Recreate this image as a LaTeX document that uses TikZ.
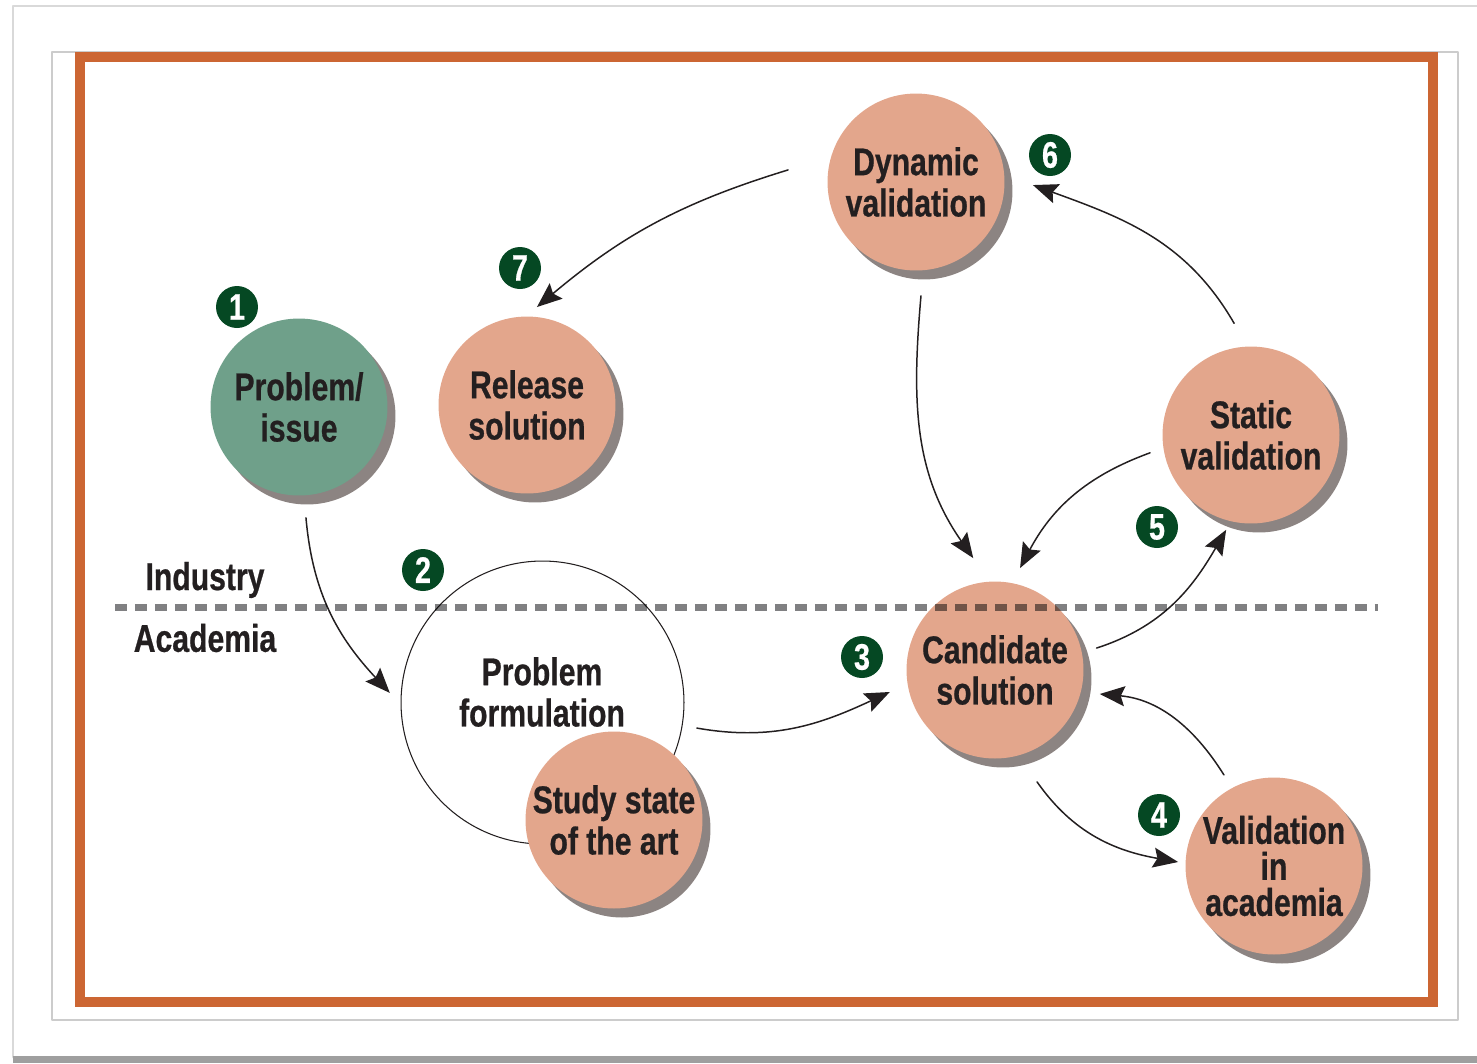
\documentclass[tikz,border=0pt]{standalone}
\usepackage{fontspec}
\newfontfamily\condfont[FakeStretch=0.78, FakeBold=0.6]{Liberation Sans}
\usetikzlibrary{arrows.meta,shadows}
\definecolor{frameorange}{HTML}{CC6633}
\definecolor{salmon}{HTML}{E3A68C}
\definecolor{issuegreen}{HTML}{6FA08A}
\definecolor{badgegreen}{HTML}{054823}
\definecolor{shadowgray}{HTML}{8C8482}
\definecolor{inkblack}{HTML}{231F20}
\definecolor{dashgray}{HTML}{808082}
\begin{document}
\begin{tikzpicture}[x=0.02cm, y=0.02cm, line join=round, line cap=round,
  >={Stealth[length=0.5cm, width=0.4cm, inset=0.08cm]},
  stage/.style={circle, fill=salmon, minimum size=3.54cm, inner sep=0pt, outer sep=0pt, align=center,
    font=\condfont\bfseries\fontsize{22}{23.5}\selectfont, text=inkblack,
    general shadow={fill=shadowgray, shadow xshift=0.16cm, shadow yshift=-0.18cm}},
  badge/.style={circle, fill=badgegreen, minimum size=0.84cm, inner sep=0pt, text=white,
    font=\condfont\bfseries\fontsize{21}{21}\selectfont},
  side/.style={font=\condfont\bfseries\fontsize{22}{23}\selectfont, text=inkblack},
  flow/.style={->, line width=0.85pt, inkblack}]
\useasboundingbox (0,0) rectangle (1477,-1063);
% page and frames
\draw[gray!30, line width=1.5pt] (13,-1057) -- (13,-6) -- (1490,-6);
\fill[gray!75] (13,-1056) rectangle (1477,-1063);
\draw[gray!40, line width=1pt] (52,-52) rectangle (1458,-1020);
\draw[frameorange, line width=0.2cm, line cap=butt, line join=miter] (80,-57) rectangle (1433,-1002);
% circles
\node[circle, draw=inkblack, fill=white, line width=0.6pt, minimum size=5.66cm, inner sep=0pt] (form) at (542.5,-702.5) {};
\node[side, align=center, font=\condfont\bfseries\fontsize{22}{23.5}\selectfont] (formtext) at (542,-692) {Problem\\formulation};
\node[stage] (study) at (614,-820) {Study state\\of the art};
\node[stage, fill=issuegreen] (issue) at (299,-407) {Problem/\\issue};
\node[stage] (rel) at (527,-405) {Release\\solution};
\node[stage] (dyn) at (916,-182) {Dynamic\\validation};
\node[stage] (stat) at (1251,-435) {Static\\validation};
\node[stage] (cand) at (995,-670) {Candidate\\solution};
\node[stage, font=\condfont\bfseries\fontsize{22}{20.5}\selectfont] (acad) at (1274,-866) {Validation\\in\\academia};
% step numbers
\node[badge] (b1) at (237,-307) {1};
\node[badge] (b2) at (423,-570) {2};
\node[badge] (b3) at (862,-657) {3};
\node[badge] (b4) at (1159,-815) {4};
\node[badge] (b5) at (1157,-527) {5};
\node[badge] (b6) at (1050,-155) {6};
\node[badge] (b7) at (520,-268) {7};
\node[side] (ind) at (205,-580) {Industry};
\node[side] (aca) at (205,-638) {Academia};
% arrows
\draw[flow] ([shift={(-86.4:2.22cm)}]issue.center) to[out=-85, in=133] ([shift={(176.4:3.06cm)}]form.center);
\draw[flow] ([shift={(-9.4:3.13cm)}]form.center) to[out=-10, in=205] ([shift={(191.8:2.15cm)}]cand.center);
\draw[flow] ([shift={(-69.4:2.39cm)}]cand.center) to[out=-55, in=170] ([shift={(177.6:1.92cm)}]acad.center);
\draw[flow] ([shift={(118.8:2.08cm)}]acad.center) to[out=122, in=-5] ([shift={(-12.9:2.15cm)}]cand.center);
\draw[flow] ([shift={(12.2:2.08cm)}]cand.center) to[out=18, in=-120] ([shift={(-104.7:1.96cm)}]stat.center);
\draw[flow] ([shift={(190:2.05cm)}]stat.center) to[out=200, in=62] ([shift={(76.2:2.1cm)}]cand.center);
\draw[flow] ([shift={(98.6:2.26cm)}]stat.center) to[out=120, in=-20] ([shift={(-1.5:2.34cm)}]dyn.center);
\draw[flow] ([shift={(-87.5:2.28cm)}]dyn.center) to[out=-95, in=125] ([shift={(101:2.28cm)}]cand.center);
\draw[flow] ([shift={(174.6:2.57cm)}]dyn.center) to[out=197, in=40] ([shift={(84.2:1.97cm)}]rel.center);
% border between industry and academia
\begin{scope}[blend mode=multiply]
\draw[dashgray, line width=0.14cm, line cap=butt, dash pattern=on 0.25cm off 0.15cm] (115,-607) -- (1378,-607);
\end{scope}
\end{tikzpicture}
\end{document}
